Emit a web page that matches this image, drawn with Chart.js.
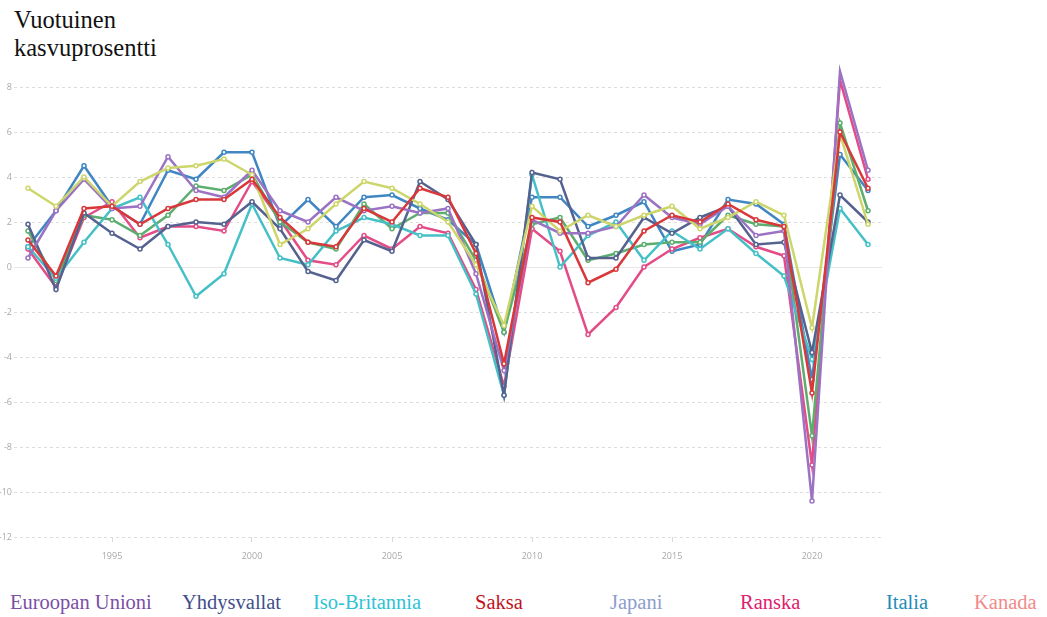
<!DOCTYPE html>
<html lang="fi">
<head>
<meta charset="utf-8">
<title>Vuotuinen kasvuprosentti</title>
<script src="https://cdn.jsdelivr.net/npm/chart.js@4.4.0/dist/chart.umd.min.js"></script>
<style>
    html, body { margin: 0; padding: 0; background: #fff; width: 1047px; height: 617px; overflow: hidden; }
    #otsikko { position: absolute; left: 14px; top: 6px; font-family: "Liberation Serif", "DejaVu Serif", serif; font-size: 24.5px; line-height: 28px; color: #111; }
    #kaavio { position: absolute; left: 0; top: 0; }
    #selite span { position: absolute; top: 591px; font-family: "Liberation Serif", "DejaVu Serif", serif; font-size: 20.5px; white-space: nowrap; }
</style>
</head>
<body>
<div id="otsikko">Vuotuinen<br>kasvuprosentti</div>
<canvas id="kaavio" width="890" height="570"></canvas>
<div id="selite"></div>
<script>
// Vuodet ja näkyvät akselin tekstit
const vuodet = [1992, 1993, 1994, 1995, 1996, 1997, 1998, 1999, 2000, 2001, 2002, 2003, 2004, 2005, 2006, 2007,
    2008, 2009, 2010, 2011, 2012, 2013, 2014, 2015, 2016, 2017, 2018, 2019, 2020, 2021, 2022];
const xTekstit = [1995, 2000, 2005, 2010, 2015, 2020];
const yTekstit = [8, 6, 4, 2, 0, -2, -4, -6, -8, -10, -12];

// BKT:n vuotuinen kasvu (%)
const euroopanUnioni = [1.2, -0.4, 2.6, 2.7, 1.9, 2.6, 3.0, 3.0, 3.9, 2.2, 1.1, 0.9, 2.6, 2.0, 3.5, 3.1,
    0.6, -4.3, 2.2, 2.0, -0.7, -0.1, 1.6, 2.3, 2.0, 2.8, 2.1, 1.8, -5.6, 6.0, 3.5];
const yhdysvallat = [3.5, 2.7, 4.0, 2.7, 3.8, 4.4, 4.5, 4.8, 4.1, 1.0, 1.7, 2.8, 3.8, 3.5, 2.8, 2.0,
    0.1, -2.6, 2.7, 1.6, 2.3, 1.8, 2.3, 2.7, 1.7, 2.2, 2.9, 2.3, -2.7, 5.9, 1.9];
const isoBritannia = [0.4, 2.5, 3.9, 2.6, 2.7, 4.9, 3.4, 3.1, 4.3, 2.5, 2.0, 3.1, 2.5, 2.7, 2.4, 2.6,
    -0.3, -4.6, 2.1, 1.5, 1.5, 1.8, 3.2, 2.2, 1.9, 2.7, 1.4, 1.6, -10.4, 8.7, 4.3];
const saksa = [1.9, -1.0, 2.4, 1.5, 0.8, 1.8, 2.0, 1.9, 2.9, 1.7, -0.2, -0.6, 1.2, 0.7, 3.8, 3.0,
    1.0, -5.7, 4.2, 3.9, 0.4, 0.4, 2.2, 1.5, 2.2, 2.7, 1.0, 1.1, -3.8, 3.2, 2.0];
const japani = [0.9, -0.5, 1.1, 2.6, 3.1, 1.0, -1.3, -0.3, 2.8, 0.4, 0.1, 1.6, 2.2, 1.9, 1.4, 1.4,
    -1.2, -5.7, 4.1, 0.0, 1.4, 2.0, 0.3, 1.6, 0.8, 1.7, 0.6, -0.4, -4.1, 2.6, 1.0];
const ranska = [1.6, -0.6, 2.3, 2.1, 1.4, 2.3, 3.6, 3.4, 4.1, 2.0, 1.1, 0.8, 2.8, 1.7, 2.4, 2.4,
    0.3, -2.9, 1.9, 2.2, 0.3, 0.6, 1.0, 1.1, 1.1, 2.3, 1.9, 1.8, -7.5, 6.4, 2.5];
const italia = [0.8, -0.9, 2.2, 2.9, 1.3, 1.8, 1.8, 1.6, 3.8, 2.1, 0.3, 0.1, 1.4, 0.8, 1.8, 1.5,
    -1.0, -5.3, 1.7, 0.7, -3.0, -1.8, 0.0, 0.8, 1.3, 1.7, 0.9, 0.5, -8.8, 8.3, 3.9];
const kanada = [0.9, 2.5, 4.5, 2.7, 1.9, 4.3, 3.9, 5.1, 5.1, 1.8, 3.0, 1.8, 3.1, 3.2, 2.6, 2.1,
    1.0, -2.9, 3.1, 3.1, 1.8, 2.3, 2.9, 0.7, 1.0, 3.0, 2.8, 1.9, -5.0, 5.0, 3.4];

// Selitteen tekstit ja värit
const selitteet = ['Euroopan Unioni', 'Yhdysvallat', 'Iso-Britannia', 'Saksa', 'Japani', 'Ranska', 'Italia', 'Kanada'];
const seliteVarit = ['#7b4fa6', '#3f4f8a', '#2ec3d6', '#c0141e', '#8d9ecd', '#e0206e', '#1e8db6', '#f08a8a'];
const seliteX = [10, 182, 313, 475, 610, 740, 886, 974];

const sarjat = [
    { nimi: 'Euroopan Unioni', data: euroopanUnioni, vari: '#d9383a' },
    { nimi: 'Yhdysvallat', data: yhdysvallat, vari: '#cdd66a' },
    { nimi: 'Iso-Britannia', data: isoBritannia, vari: '#9b72c4' },
    { nimi: 'Saksa', data: saksa, vari: '#55628f' },
    { nimi: 'Japani', data: japani, vari: '#45c0c6' },
    { nimi: 'Ranska', data: ranska, vari: '#5dae6e' },
    { nimi: 'Italia', data: italia, vari: '#e34c86' },
    { nimi: 'Kanada', data: kanada, vari: '#3f86c2' }
];

// Selite HTML:nä
const selite = document.getElementById('selite');
selitteet.forEach((teksti, i) => {
    const s = document.createElement('span');
    s.textContent = teksti;
    s.style.left = seliteX[i] + 'px';
    s.style.color = seliteVarit[i];
    selite.appendChild(s);
});

// Nollaviiva yhtenäisenä
const nollaviiva = {
    id: 'nollaviiva',
    beforeDatasetsDraw(chart) {
        const { ctx, chartArea, scales } = chart;
        const y = Math.round(scales.y.getPixelForValue(0)) + 0.5;
        ctx.save();
        ctx.strokeStyle = '#e6e6e6';
        ctx.lineWidth = 1;
        ctx.beginPath();
        ctx.moveTo(chartArea.left, y);
        ctx.lineTo(chartArea.right, y);
        ctx.stroke();
        ctx.restore();
    }
};

new Chart(document.getElementById('kaavio'), {
    type: 'line',
    data: {
        labels: vuodet,
        datasets: sarjat.map(s => ({
            label: s.nimi,
            data: s.data,
            borderColor: s.vari,
            backgroundColor: s.vari,
            borderWidth: 2.5,
            pointRadius: 2,
            pointBackgroundColor: '#ffffff',
            pointBorderColor: s.vari,
            pointBorderWidth: 1.5,
            tension: 0,
            clip: false
        }))
    },
    options: {
        responsive: false,
        devicePixelRatio: 1,
        animation: false,
        layout: { padding: { top: 87, right: 8, left: 0, bottom: 0 } },
        plugins: {
            legend: { display: false },
            tooltip: { enabled: false }
        },
        scales: {
            x: {
                offset: true,
                border: { display: false },
                grid: { drawOnChartArea: false, drawTicks: true, tickLength: 5, color: '#d8d8d8' },
                ticks: {
                    autoSkip: false,
                    maxRotation: 0,
                    padding: 9,
                    color: '#a8a8a8',
                    font: { family: 'Open Sans', size: 9 },
                    callback: function(value) {
                        const v = this.getLabelForValue(value);
                        return xTekstit.includes(v) ? String(v) : null;
                    }
                },
                afterFit: scale => { scale.height = 33; }
            },
            y: {
                min: -12,
                max: 8,
                border: { display: false, dash: [3, 3] },
                grid: {
                    drawTicks: false,
                    color: ctx => ctx.tick.value === 0 ? 'rgba(0,0,0,0)' : '#dddddd'
                },
                ticks: {
                    stepSize: 2,
                    padding: 2,
                    color: '#a8a8a8',
                    font: { family: 'Open Sans', size: 9 },
                    callback: value => yTekstit.includes(value) ? String(value) : null
                },
                afterFit: scale => { scale.width = 14; }
            }
        }
    },
    plugins: [nollaviiva]
});
</script>
</body>
</html>
